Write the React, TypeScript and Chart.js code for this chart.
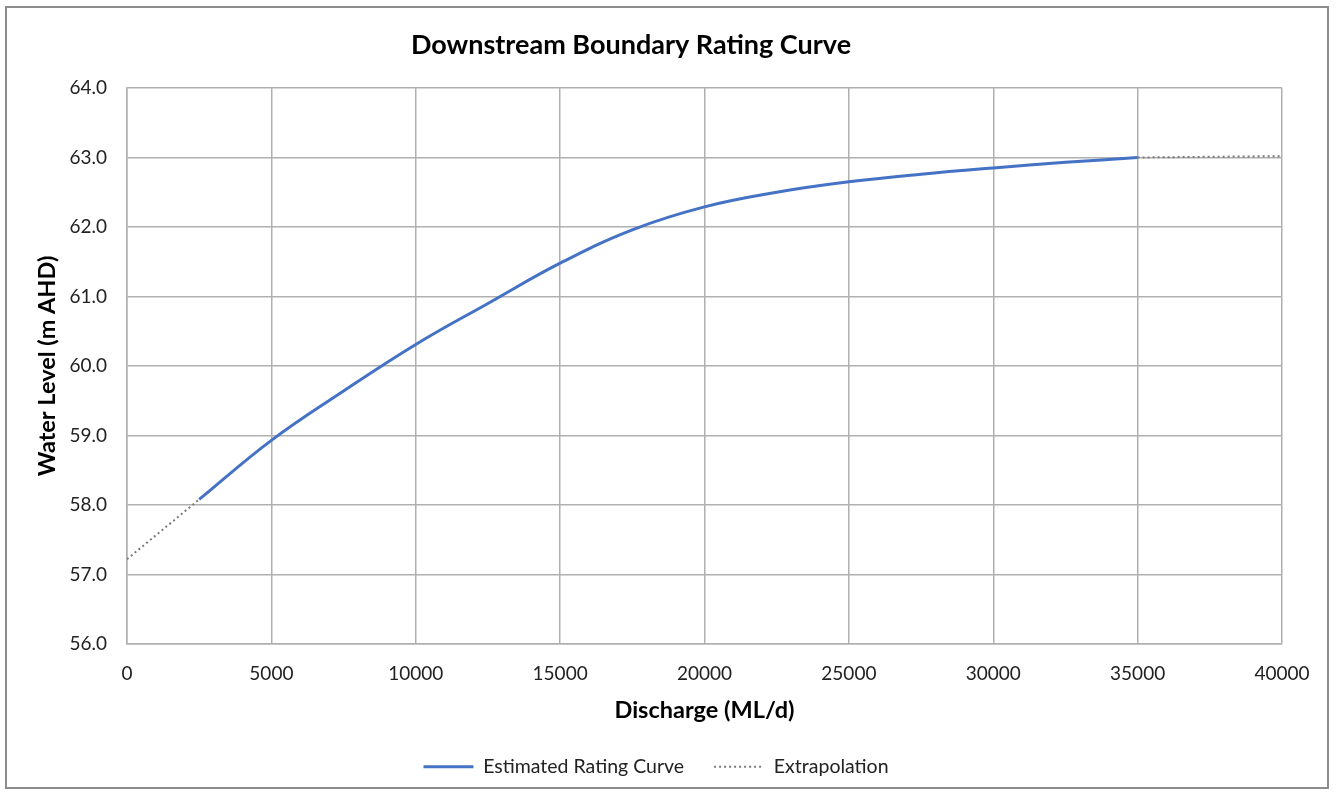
import React, { useEffect, useRef } from "react";
import { Chart, registerables } from "chart.js";

Chart.register(...registerables);

const ratingDischarge = [2500, 5000, 7500, 10000, 12500, 15000, 17500, 20000, 22500, 25000, 27500, 30000, 32500, 35000];
const ratingLevel = [58.08, 58.93, 59.64, 60.31, 60.9, 61.48, 61.96, 62.29, 62.5, 62.65, 62.76, 62.85, 62.93, 63.0];

const extrapLowDischarge = [0, 2500];
const extrapLowLevel = [57.22, 58.08];
const extrapHighDischarge = [35000, 40000];
const extrapHighLevel = [63.0, 63.02];

const xTicks = [0, 5000, 10000, 15000, 20000, 25000, 30000, 35000, 40000];
const yTicks = [56, 57, 58, 59, 60, 61, 62, 63, 64];

const TITLE = "Downstream Boundary Rating Curve";
const FONT = "Lato, 'Open Sans', sans-serif";

const titlePlugin = {
  id: "chartTitleText",
  afterDraw(chart: any) {
    const ctx = chart.ctx;
    ctx.save();
    ctx.font = `bold 27px ${FONT}`;
    ctx.fillStyle = "#000";
    ctx.textAlign = "center";
    ctx.textBaseline = "middle";
    ctx.fillText(TITLE, 631, 45);
    ctx.restore();
  },
};

export default function App() {
  const ref = useRef<HTMLCanvasElement | null>(null);

  useEffect(() => {
    if (!ref.current) return;
    const ratingData = ratingDischarge.map((x, i) => ({ x, y: ratingLevel[i] }));
    const extrapData = [
      ...extrapLowDischarge.map((x, i) => ({ x, y: extrapLowLevel[i] })),
      { x: NaN, y: NaN },
      ...extrapHighDischarge.map((x, i) => ({ x, y: extrapHighLevel[i] })),
    ];
    const chart = new Chart(ref.current, {
      type: "line",
      plugins: [titlePlugin],
      data: {
        datasets: [
          {
            label: "Estimated Rating Curve",
            data: ratingData,
            borderColor: "#4472C4",
            backgroundColor: "#4472C4",
            borderWidth: 3,
            pointRadius: 0,
            tension: 0.4,
            fill: false,
          },
          {
            label: "Extrapolation",
            data: extrapData,
            borderColor: "#7a7a7a",
            backgroundColor: "#7a7a7a",
            borderWidth: 2,
            borderDash: [2, 3],
            pointRadius: 0,
            spanGaps: false,
            fill: false,
          },
        ],
      },
      options: {
        animation: false,
        responsive: false,
        maintainAspectRatio: false,
        layout: { padding: { left: 30, right: 55, top: 88, bottom: 7.5 } },
        plugins: {
          title: { display: false },
          legend: {
            position: "bottom",
            labels: {
              usePointStyle: true,
              pointStyle: "line",
              pointStyleWidth: 50,
              color: "#222",
              font: { family: FONT, size: 19.5 },
              padding: 30,
              generateLabels: (c: any) =>
                c.data.datasets.map((ds: any, i: number) => ({
                  text: ds.label,
                  fillStyle: ds.borderColor,
                  strokeStyle: ds.borderColor,
                  lineWidth: ds.borderWidth,
                  lineDash: ds.borderDash || [],
                  pointStyle: "line",
                  hidden: false,
                  datasetIndex: i,
                  fontColor: "#222",
                })),
            },
          },
          tooltip: { enabled: false },
        },
        scales: {
          x: {
            type: "linear",
            min: 0,
            max: 40000,
            afterBuildTicks: (s: any) => {
              s.ticks = xTicks.map((v) => ({ value: v }));
            },
            afterFit: (s: any) => {
              s.height = 83;
            },
            ticks: {
              color: "#222",
              font: { family: FONT, size: 19 },
              padding: 18,
              maxRotation: 0,
              autoSkip: false,
              callback: (v: any) => String(v),
            },
            grid: { color: "#b0b0b0", lineWidth: 1.5, drawTicks: false },
            border: { color: "#b0b0b0", width: 1.5 },
            title: {
              display: true,
              text: "Discharge (ML/d)",
              color: "#000",
              font: { family: FONT, size: 23.5, weight: "bold" },
              padding: { top: 0, bottom: 2 },
            },
          },
          y: {
            type: "linear",
            min: 56,
            max: 64,
            afterBuildTicks: (s: any) => {
              s.ticks = yTicks.map((v) => ({ value: v }));
            },
            afterFit: (s: any) => {
              s.width = 97;
            },
            ticks: {
              color: "#222",
              font: { family: FONT, size: 19 },
              padding: 20,
              callback: (v: any) => Number(v).toFixed(1),
            },
            grid: { color: "#b0b0b0", lineWidth: 1.5, drawTicks: false },
            border: { color: "#b0b0b0", width: 1.5 },
            title: {
              display: true,
              text: "Water Level (m AHD)",
              color: "#000",
              font: { family: FONT, size: 23.5, weight: "bold" },
              padding: { top: 3, bottom: 0 },
            },
          },
        },
      },
    } as any);
    return () => chart.destroy();
  }, []);

  return (
    <div style={{ position: "absolute", left: 0, top: 0, width: 1337, height: 794, background: "#fff" }}>
      <div
        style={{
          position: "absolute",
          left: 5,
          top: 6,
          width: 1324,
          height: 783,
          border: "2px solid #8c8c8c",
          boxSizing: "border-box",
        }}
      />
      <canvas ref={ref} width={1337} height={794} style={{ position: "absolute", left: 0, top: 0 }} />
    </div>
  );
}
